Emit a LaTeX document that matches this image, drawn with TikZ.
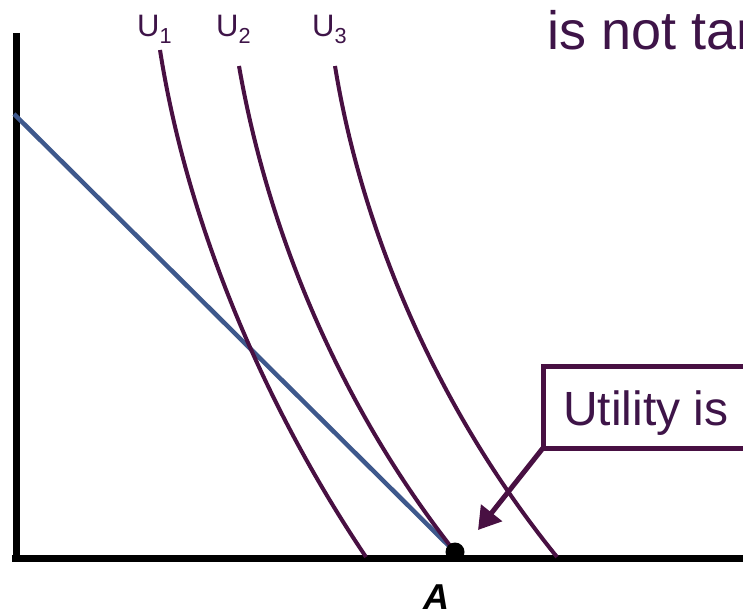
\documentclass[tikz,border=0pt]{standalone}
\usepackage{fontspec}
\setmainfont{Liberation Sans}
\usetikzlibrary{arrows.meta}
\definecolor{curvepurple}{RGB}{72,16,66}
\definecolor{textpurple}{RGB}{62,20,72}
\definecolor{budgetblue}{RGB}{62,88,140}
\tikzset{
  axisline/.style={line width=7pt, black},
  ucurve/.style={line width=4pt, curvepurple},
  budget/.style={line width=4.5pt, budgetblue},
  ulabel/.style={text=textpurple, font=\fontsize{31}{34}\selectfont, inner sep=0pt, anchor=base west},
  bigtext/.style={text=textpurple, font=\fontsize{48}{52}\selectfont, inner sep=0pt, anchor=base west},
  calloutbox/.style={draw=curvepurple, line width=5pt, fill=white},
  callarrow/.style={draw=curvepurple, line width=5pt, -{Triangle[length=22pt,width=26pt]}}
}
\begin{document}
\begin{tikzpicture}[x=1pt,y=-1pt]
\useasboundingbox (0,0) rectangle (743,615);
\clip (0,0) rectangle (743,615);
% axes
\coordinate (O) at (16,558);
\coordinate (ytop) at (16,33);
\coordinate (xend) at (760,558);
\draw[axisline] (ytop) -- (16,561);
\draw[axisline] (12,558) -- (xend);
% budget line
\coordinate (b1) at (14,114);
\coordinate (A) at (455,552);
\draw[budget] (b1) -- (A);
% indifference curves
\draw[ucurve] (160,50) .. controls (185,210) and (255,392) .. (366,557);
\draw[ucurve] (239,66) .. controls (265,215) and (330,395) .. (459,557);
\draw[ucurve] (335,66) .. controls (360,220) and (430,400) .. (557,557);
% labels
\node[ulabel] (u1) at (137,37) {U\textsubscript{1}};
\node[ulabel] (u2) at (216,37) {U\textsubscript{2}};
\node[ulabel] (u3) at (312,37) {U\textsubscript{3}};
\node[bigtext, font=\fontsize{54}{58}\selectfont] (top) at (547,50) {is not tar};
% point A
\fill[black] (A) circle (9.5);
\node[font=\fontsize{36}{40}\selectfont\bfseries\itshape, inner sep=0pt, anchor=base] (alabel) at (436,609) {A};
% callout
\draw[calloutbox] (543,366) rectangle (780,448);
\node[bigtext] (util) at (563,425) {Utility is};
\coordinate (corner) at (543,448);
\coordinate (tip) at (478,530);
\draw[callarrow] (corner) -- (tip);
\end{tikzpicture}
\end{document}
